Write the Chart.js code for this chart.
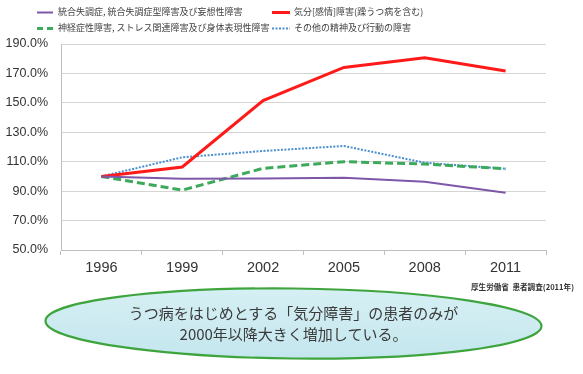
<!DOCTYPE html>
<html>
<head>
<meta charset="utf-8">
<script src="https://cdn.jsdelivr.net/npm/chart.js"></script>
<style>
  body { margin: 0; background: #fff; }
  #wrap { position: relative; width: 583px; height: 374px; overflow: hidden; font-family: "Noto Sans CJK JP", sans-serif; }
  #chart { position: absolute; left: 0; top: 0; }
  .leg { position: absolute; font-size: 9px; color: #404040; white-space: nowrap; line-height: 12px; }
  .legline { position: absolute; }
  #source { position: absolute; left: 471px; top: 281px; font-size: 7.6px; font-weight: bold; color: #333; white-space: nowrap; }
  #oval { position: absolute; left: 0; top: 0; }
  #msg { position: absolute; left: 45px; width: 497px; top: 302px; text-align: center; font-size: 15px; line-height: 21px; color: #3a3a3a; }
</style>
</head>
<body>
<div id="wrap">
  <canvas id="chart" width="583" height="374"></canvas>
  <svg class="legline" width="583" height="40" style="left:0;top:0">
    <line x1="37" y1="12.5" x2="53" y2="12.5" stroke="#7e57a8" stroke-width="2"/>
    <line x1="272" y1="12.5" x2="290" y2="12.5" stroke="#ff1a1a" stroke-width="3"/>
    <line x1="37" y1="28.5" x2="53" y2="28.5" stroke="#3caa5a" stroke-width="3" stroke-dasharray="6 4"/>
    <line x1="272" y1="28.5" x2="290" y2="28.5" stroke="#4a90d0" stroke-width="2" stroke-dasharray="2 1.5"/>
  </svg>
  <div class="leg" id="leg0" style="left:58px;top:6px"></div>
  <div class="leg" id="leg1" style="left:294px;top:6px"></div>
  <div class="leg" id="leg2" style="left:58px;top:22px"></div>
  <div class="leg" id="leg3" style="left:294px;top:22px"></div>
  <div id="source">厚生労働省&nbsp;&nbsp;患者調査(2011年)</div>
  <svg id="oval" width="583" height="374">
    <defs>
      <linearGradient id="fill" x1="0" y1="0" x2="0" y2="1">
        <stop offset="0" stop-color="#d6f0f4"/>
        <stop offset="1" stop-color="#c4e6ee"/>
      </linearGradient>
    </defs>
    <ellipse cx="293.5" cy="323.5" rx="248" ry="35" fill="url(#fill)" stroke="#3ea53e" stroke-width="2.2" transform="rotate(0.6 293.5 323.5)"/>
  </svg>
  <div id="msg">うつ病をはじめとする「気分障害」の患者のみが<br>2000年以降大きく増加している。</div>
</div>
<script>
// data
var years = ['1996', '1999', '2002', '2005', '2008', '2011'];
var seriesNames = [
  '統合失調症, 統合失調症型障害及び妄想性障害',
  '気分[感情]障害(躁うつ病を含む)',
  '神経症性障害, ストレス関連障害及び身体表現性障害',
  'その他の精神及び行動の障害'
];
var schizo = [100, 98.4, 98.6, 99.1, 96.4, 88.9];
var mood = [100, 106.4, 151.6, 174.1, 180.7, 171.6];
var neurotic = [100, 90.7, 105.5, 110, 108.4, 105.2];
var others = [100, 113, 117.3, 120.7, 109.3, 105.2];
var yTicks = [50, 70, 90, 110, 130, 150, 170, 190];

for (var i = 0; i < seriesNames.length; i++) {
  document.getElementById('leg' + i).textContent = seriesNames[i];
}

var ctx = document.getElementById('chart').getContext('2d');
var chart = new Chart(ctx, {
  type: 'line',
  data: {
    labels: years,
    datasets: [
      { label: seriesNames[0], data: schizo, borderColor: '#7e57a8', borderWidth: 2 },
      { label: seriesNames[1], data: mood, borderColor: '#ff1a1a', borderWidth: 3 },
      { label: seriesNames[2], data: neurotic, borderColor: '#3caa5a', borderWidth: 3, borderDash: [8, 4] },
      { label: seriesNames[3], data: others, borderColor: '#4a90d0', borderWidth: 2, borderDash: [2, 1.5] }
    ]
  },
  options: {
    responsive: false,
    animation: false,
    layout: { padding: { top: 44, right: 37, left: 0, bottom: 0 } },
    elements: { point: { radius: 0 }, line: { tension: 0, borderCapStyle: 'butt' } },
    plugins: { legend: { display: false }, tooltip: { enabled: false } },
    scales: {
      x: {
        offset: true,
        grid: { offset: true, drawOnChartArea: false, drawTicks: true, tickLength: 5, color: '#bfbfbf' },
        border: { display: true, color: '#bfbfbf' },
        ticks: { padding: 4, color: '#333', font: { family: 'Liberation Sans', size: 14.5 } },
        afterFit: function (scale) { scale.height = 124; }
      },
      y: {
        min: 50,
        max: 190,
        afterBuildTicks: function (scale) {
          scale.ticks = yTicks.map(function (v) { return { value: v }; });
        },
        grid: { color: '#d4d4d4', drawTicks: false },
        border: { display: true, color: '#bfbfbf' },
        ticks: {
          padding: 13,
          color: '#333',
          font: { family: 'Liberation Sans', size: 12.5 },
          callback: function (v) { return v.toFixed(1) + '%'; }
        },
        afterFit: function (scale) { scale.width = 61; }
      }
    }
  }
});
</script>
</body>
</html>
